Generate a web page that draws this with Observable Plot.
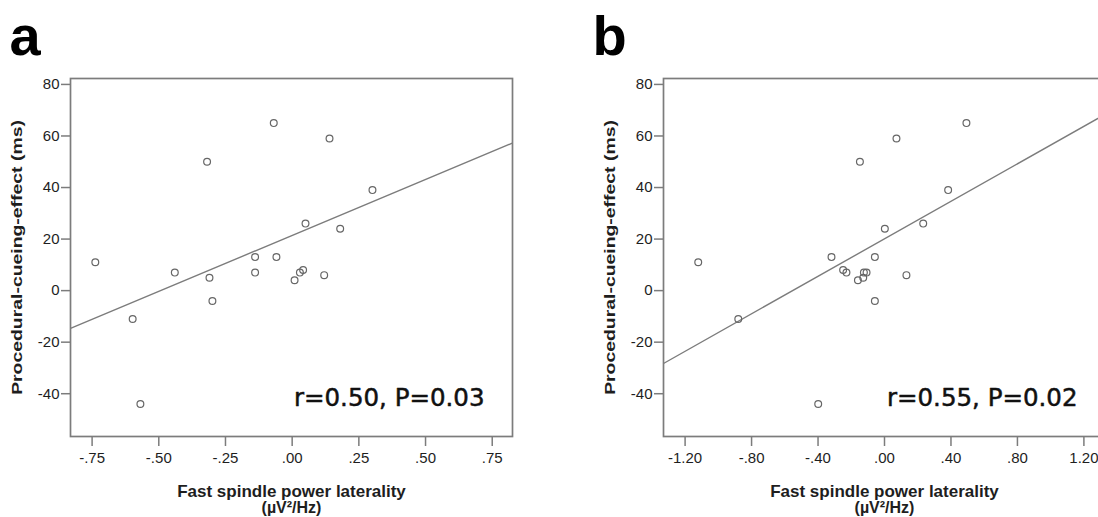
<!DOCTYPE html>
<html>
<head>
<meta charset="utf-8">
<script src="https://cdn.jsdelivr.net/npm/d3@7"></script>
<script src="https://cdn.jsdelivr.net/npm/@observablehq/plot@0.6"></script>
<style>
  html, body { margin: 0; padding: 0; background: #fff; }
  #wrap { position: relative; width: 1098px; height: 517px; overflow: hidden; }
  #wrap svg { position: absolute; top: 0; overflow: visible; }
</style>
</head>
<body>
<div id="wrap"></div>
<script>
// ---- Data ----
const panelLabels = ["a", "b"];
const annotations = ["r=0.50, P=0.03", "r=0.55, P=0.02"];
const yAxisLabel = "Procedural-cueing-effect (ms)";
const xAxisLabel1 = "Fast spindle power laterality";
const xAxisLabel2 = "(µV²/Hz)";

const yTicks = [80, 60, 40, 20, 0, -20, -40];
const yTickLabels = ["80", "60", "40", "20", "0", "-20", "-40"];

const xTicksA = [-0.75, -0.5, -0.25, 0, 0.25, 0.5, 0.75];
const xTickLabelsA = ["-.75", "-.50", "-.25", ".00", ".25", ".50", ".75"];
const xTicksB = [-1.2, -0.8, -0.4, 0, 0.4, 0.8, 1.2];
const xTickLabelsB = ["-1.20", "-.80", "-.40", ".00", ".40", ".80", "1.20"];

// Panel a: laterality (x) vs cueing effect (y)
const xA = [-0.738, -0.598, -0.569, -0.44, -0.319, -0.31, -0.299, -0.139, -0.139, -0.069,
            -0.059, 0.009, 0.029, 0.041, 0.05, 0.12, 0.14, 0.18, 0.301];
const yA = [11, -11, -44, 7, 50, 5, -4, 13, 7, 65, 13, 4, 7, 8, 26, 6, 59, 24, 39];

// Panel b
const xB = [-1.121, -0.88, -0.399, -0.319, -0.249, -0.229, -0.148, -0.16, -0.128, -0.124,
            -0.108, -0.058, -0.058, 0.002, 0.072, 0.132, 0.233, 0.383, 0.493];
const yB = [11, -11, -44, 13, 8, 7, 50, 4, 5, 7, 7, 13, -4, 24, 59, 6, 26, 39, 65];

const xDomainA = [-0.831, 0.826];
const xDomainB = [-1.33, 1.33];
const yDomain = [-56.6, 82.3];

// ---- Helpers ----
function fit(xs, ys) {
  const mx = d3.mean(xs), my = d3.mean(ys);
  let sxy = 0, sxx = 0;
  xs.forEach((x, i) => { sxy += (x - mx) * (ys[i] - my); sxx += (x - mx) ** 2; });
  const b = sxy / sxx, a = my - b * mx;
  return x => a + b * x;
}

const GRAY = "#7c7c7c";
const TXT = "#1e1e1e";
const SANS = "'Liberation Sans', Arial, sans-serif";

function panel({xs, ys, xDomain, xTicks, xTickLabels, label, labelX, annot, marginLeft, left}) {
  const f = fit(xs, ys);
  const pts = xs.map((x, i) => ({x, y: ys[i]}));
  const lineData = xDomain.map(x => ({x, y: f(x)}));
  const svg = Plot.plot({
    width: 540,
    height: 517,
    marginLeft,
    marginRight: 540 - marginLeft - 442,
    marginTop: 78,
    marginBottom: 81,
    style: {fontFamily: SANS, fontSize: "15px", color: TXT, background: "transparent", overflow: "visible"},
    x: {domain: xDomain, label: null},
    y: {domain: yDomain, label: null},
    marks: [
      Plot.line(lineData, {x: "x", y: "y", stroke: GRAY, strokeWidth: 1.4, clip: true}),
      Plot.dot(pts, {x: "x", y: "y", r: 3.4, stroke: "#666", strokeWidth: 1.2, fill: "none"}),
      Plot.frame({stroke: GRAY, strokeWidth: 1.7}),
      Plot.axisX({ticks: xTicks, tickSize: 10, tickPadding: 6, stroke: GRAY, strokeWidth: 1.5,
                  tickFormat: (d, i) => xTickLabels[i], fontSize: 15, fill: TXT, label: null}),
      Plot.axisY({ticks: yTicks, tickSize: 9, tickPadding: 2, stroke: GRAY, strokeWidth: 1.5,
                  tickFormat: (d, i) => yTickLabels[i], fontSize: 15, fill: TXT, label: null}),
      Plot.text([annot], {frameAnchor: "bottom-right", textAnchor: "end", lineAnchor: "bottom",
                  dx: -28, dy: -31, fontSize: 24.5, fontFamily: "'DejaVu Sans', Verdana, sans-serif",
                  fill: "#111", stroke: "#111", strokeWidth: 0.5}),
      Plot.text([yAxisLabel], {frameAnchor: "left", rotate: -90, dx: -53, fontSize: 15.5,
                  fontWeight: "bold", fill: TXT, lineAnchor: "middle", textAnchor: "middle",
                  className: "ylab"}),
      Plot.text([xAxisLabel1], {frameAnchor: "bottom", lineAnchor: "bottom", dy: 60, fontSize: 17,
                  fontWeight: "bold", fill: TXT}),
      Plot.text([xAxisLabel2], {frameAnchor: "bottom", lineAnchor: "bottom", dy: 76, fontSize: 16,
                  fontWeight: "bold", fill: TXT}),
      Plot.text([label], {frameAnchor: "top-left", textAnchor: "start", lineAnchor: "bottom",
                  dx: labelX - marginLeft, dy: -24, fontSize: 56, fontWeight: "bold",
                  fontFamily: "'Liberation Sans', Arial, sans-serif", fill: "#000"})
    ]
  });
  svg.style.left = left + "px";
  return svg;
}

const wrap = document.getElementById("wrap");
const svgA = panel({xs: xA, ys: yA, xDomain: xDomainA, xTicks: xTicksA, xTickLabels: xTickLabelsA,
  label: panelLabels[0], labelX: 9, annot: annotations[0], marginLeft: 70, left: 0});
const svgB = panel({xs: xB, ys: yB, xDomain: xDomainB, xTicks: xTicksB, xTickLabels: xTickLabelsB,
  label: panelLabels[1], labelX: 2, annot: annotations[1], marginLeft: 73, left: 590});
wrap.appendChild(svgA);
wrap.appendChild(svgB);

// Stretch the y-axis title along its length, as in the reference (≈275px long).
for (const svg of [svgA, svgB]) {
  svg.querySelectorAll(".ylab text").forEach(t => {
    const len = t.getComputedTextLength();
    const k = 275 / len;
    const tr = t.getAttribute("transform") || "";
    t.setAttribute("transform", tr + ` scale(${k},1)`);
  });
}
</script>
</body>
</html>
